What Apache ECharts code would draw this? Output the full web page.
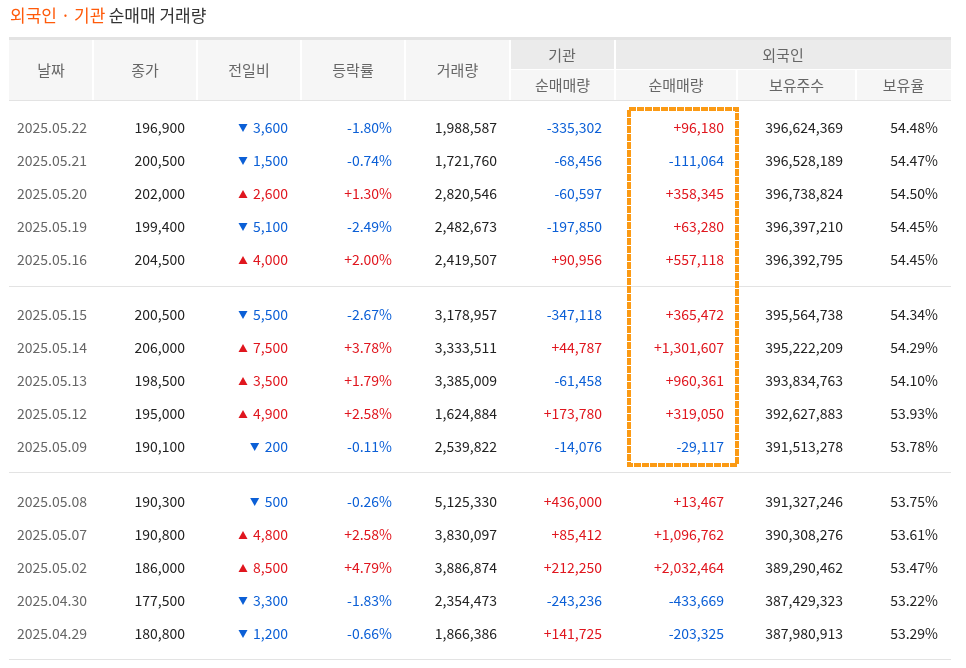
<!DOCTYPE html>
<html><head><meta charset="utf-8">
<script src="https://cdn.jsdelivr.net/npm/echarts@6/dist/echarts.min.js"></script>
<style>html,body{margin:0;padding:0;background:#fff}#c{width:966px;height:668px}</style>
</head><body><div id="c"></div>
<script>
const dates=['2025.05.22','2025.05.21','2025.05.20','2025.05.19','2025.05.16','2025.05.15','2025.05.14','2025.05.13','2025.05.12','2025.05.09','2025.05.08','2025.05.07','2025.05.02','2025.04.30','2025.04.29'];
const close=[196900,200500,202000,199400,204500,200500,206000,198500,195000,190100,190300,190800,186000,177500,180800];
const change=[-3600,-1500,2600,-5100,4000,-5500,7500,3500,4900,-200,-500,4800,8500,-3300,-1200];
const rate=[-1.80,-0.74,1.30,-2.49,2.00,-2.67,3.78,1.79,2.58,-0.11,-0.26,2.58,4.79,-1.83,-0.66];
const volume=[1988587,1721760,2820546,2482673,2419507,3178957,3333511,3385009,1624884,2539822,5125330,3830097,3886874,2354473,1866386];
const instNet=[-335302,-68456,-60597,-197850,90956,-347118,44787,-61458,173780,-14076,436000,85412,212250,-243236,141725];
const foreignNet=[96180,-111064,358345,63280,557118,365472,1301607,960361,319050,-29117,13467,1096762,2032464,-433669,-203325];
const holdings=[396624369,396528189,396738824,396397210,396392795,395564738,395222209,393834763,392627883,391513278,391327246,390308276,389290462,387429323,387980913];
const holdRate=[54.48,54.47,54.50,54.45,54.45,54.34,54.29,54.10,53.93,53.78,53.75,53.61,53.47,53.22,53.29];
const headers1=['날짜','종가','전일비','등락률','거래량'];
const headers2=['기관','외국인'];
const headers3=['순매매량','순매매량','보유주수','보유율'];

// layout
const colEdges=[9,93,197,301,405,510,615,737,856,951];
const rowY=i=>128+33*i+22*Math.floor(i/5);
const FONT='"Noto Sans CJK KR","Noto Sans",sans-serif';
const RED='#e0161e',BLUE='#0b5fd6',DARK='#222';
const fmt=n=>Math.abs(n).toLocaleString('en-US');
const sgn=n=>(n>0?'+':n<0?'-':'')+fmt(n);
const col=n=>n>0?RED:n<0?BLUE:DARK;
const mctx=document.createElement('canvas').getContext('2d');
mctx.font='14px '+FONT;

const cells=[];
dates.forEach((d,i)=>{
  const y=rowY(i);
  cells.push([17,y,d,'#666','left']);
  cells.push([185,y,fmt(close[i]),DARK,'right']);
  cells.push([288,y,fmt(change[i]),col(change[i]),'right','arrow']);
  cells.push([392,y,(rate[i]>0?'+':'')+rate[i].toFixed(2)+'%',col(rate[i]),'right']);
  cells.push([497,y,fmt(volume[i]),DARK,'right']);
  cells.push([602,y,sgn(instNet[i]),col(instNet[i]),'right']);
  cells.push([724,y,sgn(foreignNet[i]),col(foreignNet[i]),'right']);
  cells.push([843,y,fmt(holdings[i]),DARK,'right']);
  cells.push([938,y,holdRate[i].toFixed(2)+'%',DARK,'right']);
});

const headerEls=[];
function hrect(x1,y1,x2,y2,fill){headerEls.push({type:'rect',shape:{x:x1,y:y1,width:x2-x1,height:y2-y1},style:{fill:fill}});}
function htext(x,y,t){headerEls.push({type:'text',x:x,y:y,style:{text:t,fill:'#666',font:'15px '+FONT,align:'center',verticalAlign:'middle'}});}
hrect(9,37,951,40,'#e3e3e3');
for(let c=0;c<5;c++){hrect(colEdges[c]+(c?1:0),40,colEdges[c+1]-1,100,'#f6f6f6');htext((colEdges[c]+colEdges[c+1])/2,70,headers1[c]);}
hrect(511,40,614,69,'#ebebeb');htext(562,55,headers2[0]);
hrect(616,40,951,69,'#ebebeb');htext(783,55,headers2[1]);
for(let c=5;c<9;c++){hrect(colEdges[c]+1,70,colEdges[c+1]-(c==8?0:1),100,'#f6f6f6');htext((colEdges[c]+colEdges[c+1])/2,85,headers3[c-5]);}
hrect(9,100,951,101,'#e3e3e3');
hrect(9,286,951,287,'#e3e3e3');
hrect(9,472,951,473,'#e3e3e3');
hrect(9,659,951,660,'#e3e3e3');

const chart=echarts.init(document.getElementById('c'),null,{renderer:'canvas'});
chart.setOption({
  animation:false,
  grid:{left:0,right:0,top:0,bottom:0},
  xAxis:{type:'value',min:0,max:966,show:false},
  yAxis:{type:'value',min:0,max:668,inverse:true,show:false},
  graphic:[
    {type:'text',left:10,top:7,style:{rich:{o:{fill:'#ff5a0a',font:'17px '+FONT},d:{fill:'#333',font:'17px '+FONT}},text:'{o|외국인 · 기관} {d|순매매 거래량}'}},
    {type:'group',children:headerEls},
    {type:'rect',shape:{x:629,y:109,width:108,height:356},style:{fill:'none',stroke:'#fb9a14',lineWidth:4,lineDash:[7,1]}}
  ],
  series:[{
    type:'custom',
    data:cells,
    renderItem:function(params,api){
      const d=cells[params.dataIndex];
      const p=api.coord([d[0],d[1]]);
      const children=[{type:'text',x:p[0],y:p[1],style:{text:d[2],fill:d[3],font:'14px '+FONT,align:d[4],verticalAlign:'middle'}}];
      if(d[5]){
        const tw=mctx.measureText(d[2]).width;
        const ax=p[0]-tw-10, up=d[3]===RED;
        children.push({type:'polygon',shape:{points:up?[[ax-4.5,p[1]+4],[ax+4.5,p[1]+4],[ax,p[1]-4]]:[[ax-4.5,p[1]-4],[ax+4.5,p[1]-4],[ax,p[1]+4]]},style:{fill:d[3]}});
      }
      return {type:'group',children:children};
    }
  }]
});
</script></body></html>
